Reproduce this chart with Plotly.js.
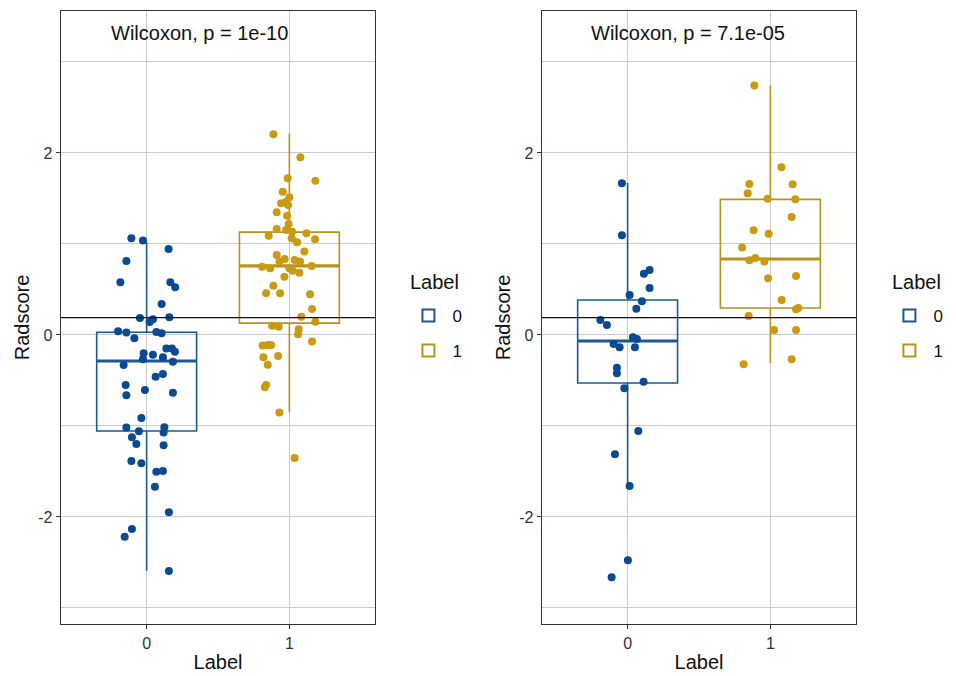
<!DOCTYPE html>
<html>
<head>
<meta charset="utf-8">
<script src="https://cdn.plot.ly/plotly-3.0.1.min.js"></script>
<style>html,body{margin:0;padding:0;background:#fff;}#chart{width:956px;height:676px;}</style>
</head>
<body>
<div id="chart"></div>
<script>
// ---------- data ----------
const categories = ['0', '1'];
const cutoff = 0.19;
const pLeft = 'Wilcoxon, p = 1e-10';
const pRight = 'Wilcoxon, p = 7.1e-05';

// Left panel, Label 0
const left0_y = [1.063,1.037,0.945,0.813,0.579,0.579,0.524,0.341,0.187,0.143,0.172,0.194,0.04,0.026,0.033,0.018,-0.037,-0.15,-0.15,-0.183,-0.2,-0.216,-0.245,-0.267,-0.33,-0.293,-0.458,-0.429,-0.549,-0.663,-0.604,-0.634,-0.912,-1.018,-1.059,-1.015,-1.073,-1.125,-1.198,-1.213,-1.385,-1.41,-1.502,-1.495,-1.667,-1.949,-2.132,-2.216,-2.593];
const left0_jit = [-0.107,-0.026,0.154,-0.142,-0.184,0.166,0.2,0.105,-0.047,0.021,0.044,0.159,-0.2,-0.142,0.068,0.105,-0.086,0.138,0.177,0.198,-0.021,0.044,0.114,-0.026,-0.161,0.184,0.063,0.114,-0.147,-0.142,-0.012,0.184,-0.037,-0.142,-0.054,0.124,0.119,-0.103,-0.072,0.119,-0.107,-0.037,0.068,0.114,0.058,0.156,-0.103,-0.154,0.156];
// Left panel, Label 1
const left1_y = [2.205,1.952,1.722,1.696,1.575,1.513,1.465,1.447,1.429,1.348,1.311,1.22,1.165,1.154,1.135,1.091,1.117,1.063,1.052,1.018,0.916,0.879,0.835,0.824,0.806,0.806,0.751,0.733,0.733,0.758,0.707,0.685,0.641,0.542,0.458,0.458,0.447,0.286,0.201,0.146,0.102,0.091,0.063,0.008,-0.073,-0.117,-0.11,-0.11,-0.245,-0.231,-0.326,-0.575,-0.549,-0.853,-1.352];
const left1_jit = [-0.112,0.077,-0.012,0.182,-0.047,0.0,-0.023,-0.058,-0.009,-0.089,-0.016,-0.005,-0.089,-0.023,0.019,-0.145,0.119,0.016,0.18,0.054,0.105,-0.089,-0.033,0.037,-0.07,0.075,-0.191,-0.135,0.0,0.156,0.023,0.07,-0.035,-0.112,-0.163,-0.065,0.145,0.159,0.084,0.182,-0.121,-0.075,0.065,0.061,0.159,-0.187,-0.152,-0.128,-0.182,-0.079,-0.152,-0.172,-0.163,-0.07,0.037];
// Right panel, Label 0
const right0_y = [1.667,1.095,0.674,0.714,0.516,0.44,0.37,0.289,0.165,0.11,-0.025,-0.044,-0.099,-0.135,-0.135,-0.359,-0.421,-0.513,-0.586,-1.055,-1.311,-1.659,-2.476,-2.663];
const right0_jit = [-0.04,-0.04,0.114,0.154,0.154,0.014,0.1,0.061,-0.191,-0.145,0.037,0.065,-0.098,-0.056,0.051,-0.075,-0.075,0.112,-0.023,0.075,-0.089,0.014,0.002,-0.112];
// Right panel, Label 1
const right1_y = [2.74,1.843,1.659,1.656,1.557,1.498,1.491,1.297,1.15,1.113,0.96,0.846,0.82,0.806,0.623,0.648,0.385,0.282,0.297,0.209,0.055,0.055,-0.266,-0.322];
const right1_jit = [-0.112,0.077,-0.147,0.156,-0.159,-0.019,0.175,0.149,-0.117,-0.012,-0.198,-0.105,-0.147,-0.042,-0.016,0.18,0.079,0.18,0.196,-0.152,0.026,0.18,0.149,-0.187];

// Box statistics [label 0, label 1]
const leftQ1 = [-1.055, 0.13];
const leftMedian = [-0.286, 0.76];
const leftQ3 = [0.03, 1.13];
const leftLower = [-2.59, -0.85];
const leftUpper = [1.02, 2.21];

const rightQ1 = [-0.527, 0.296];
const rightMedian = [-0.066, 0.835];
const rightQ3 = [0.385, 1.49];
const rightLower = [-1.66, -0.31];
const rightUpper = [1.67, 2.74];

// ---------- styles ----------
const ptColors = ['#0A4A92', '#C99A12'];
const boxColors = ['#1D5894', '#B8931E'];
const boxWidth = 0.7;
const fontFam = 'Liberation Sans, Arial, sans-serif';

const traces = [];
function addPanel(xa, ya, q1, med, q3, lo, hi, ys, jits, legendName) {
  for (let i = 0; i < 2; i++) {
    traces.push({
      type: 'box', x: [i], q1: [q1[i]], median: [med[i]], q3: [q3[i]],
      lowerfence: [lo[i]], upperfence: [hi[i]], width: boxWidth,
      whiskerwidth: 0, boxpoints: false, xaxis: xa, yaxis: ya,
      line: {color: boxColors[i], width: 1.6}, fillcolor: 'rgba(255,255,255,0)',
      name: categories[i], legend: legendName, legendgroup: legendName + i,
      showlegend: true, hoverinfo: 'skip'
    });
    traces.push({
      type: 'scatter', mode: 'lines', xaxis: xa, yaxis: ya,
      x: [i - boxWidth / 2, i + boxWidth / 2], y: [med[i], med[i]],
      line: {color: boxColors[i], width: 3.2}, showlegend: false, hoverinfo: 'skip'
    });
  }
  for (let i = 0; i < 2; i++) {
    traces.push({
      type: 'scatter', mode: 'markers', xaxis: xa, yaxis: ya,
      x: jits[i].map(j => i + j), y: ys[i],
      marker: {color: ptColors[i], size: 8}, showlegend: false, hoverinfo: 'skip'
    });
  }
}
addPanel('x', 'y', leftQ1, leftMedian, leftQ3, leftLower, leftUpper,
         [left0_y, left1_y], [left0_jit, left1_jit], 'legend');
addPanel('x2', 'y2', rightQ1, rightMedian, rightQ3, rightLower, rightUpper,
         [right0_y, right1_y], [right0_jit, right1_jit], 'legend2');

const gridC = '#cacad3';
function xax(domain, anchor) {
  return {
    domain: domain, anchor: anchor, range: [-0.6, 1.6],
    tickvals: [0, 1], ticktext: categories, showgrid: true, gridcolor: gridC, gridwidth: 1,
    zeroline: false, showline: true, mirror: true, linecolor: '#333', linewidth: 1.3,
    ticks: 'outside', ticklen: 4, tickcolor: '#333', tickwidth: 1,
    tickfont: {family: fontFam, size: 16, color: '#333'},
    title: {text: 'Label', font: {family: fontFam, size: 20, color: '#111'}, standoff: 4}
  };
}
function yax(anchor) {
  return {
    anchor: anchor, domain: [0, 1], range: [-3.176, 3.56],
    tickvals: [-2, 0, 2], ticktext: ['-2', '0', '2'],
    showgrid: true, gridcolor: gridC, gridwidth: 1,
    minor: {tickvals: [-3, -1, 1, 3], showgrid: true, gridcolor: gridC, gridwidth: 1, ticks: ''},
    zeroline: false, showline: true, mirror: true, linecolor: '#333', linewidth: 1.3,
    ticks: 'outside', ticklen: 4, tickcolor: '#333', tickwidth: 1,
    tickfont: {family: fontFam, size: 16, color: '#333'},
    title: {text: 'Radscore', font: {family: fontFam, size: 20, color: '#111'}, standoff: 3}
  };
}
function legendCfg(x) {
  return {
    x: x, y: 0.532, xanchor: 'left', yanchor: 'top', bgcolor: 'rgba(0,0,0,0)',
    font: {family: fontFam, size: 17, color: '#111'}, tracegroupgap: 10,
    itemwidth: 38, itemsizing: 'constant'
  };
}

const layout = {
  width: 956, height: 676,
  margin: {l: 61, r: 100, t: 11, b: 52, autoexpand: false},
  paper_bgcolor: '#fff', plot_bgcolor: '#fff',
  showlegend: true,
  xaxis: xax([0, 0.395], 'y'), yaxis: yax('x'),
  xaxis2: xax([0.605, 1], 'y2'), yaxis2: yax('x2'),
  legend: legendCfg(0.432), legend2: legendCfg(1.037),
  shapes: [
    {type: 'line', xref: 'x domain', yref: 'y', x0: 0, x1: 1, y0: cutoff, y1: cutoff, line: {color: '#111', width: 1.3}},
    {type: 'line', xref: 'x2 domain', yref: 'y2', x0: 0, x1: 1, y0: cutoff, y1: cutoff, line: {color: '#111', width: 1.3}}
  ],
  annotations: [
    {xref: 'x', yref: 'y', x: -0.265, y: 3.32, xanchor: 'left', yanchor: 'middle', showarrow: false,
     text: pLeft, font: {family: fontFam, size: 20, color: '#111'}},
    {xref: 'x2', yref: 'y2', x: -0.27, y: 3.32, xanchor: 'left', yanchor: 'middle', showarrow: false,
     text: pRight, font: {family: fontFam, size: 20, color: '#111'}},
    {xref: 'paper', yref: 'paper', x: 0.4365, y: 0.558, xanchor: 'left', yanchor: 'middle', showarrow: false,
     text: 'Label', font: {family: fontFam, size: 20, color: '#111'}},
    {xref: 'paper', yref: 'paper', x: 1.043, y: 0.558, xanchor: 'left', yanchor: 'middle', showarrow: false,
     text: 'Label', font: {family: fontFam, size: 20, color: '#111'}}
  ]
};

Plotly.newPlot('chart', traces, layout, {displayModeBar: false, staticPlot: true});
</script>
</body>
</html>
